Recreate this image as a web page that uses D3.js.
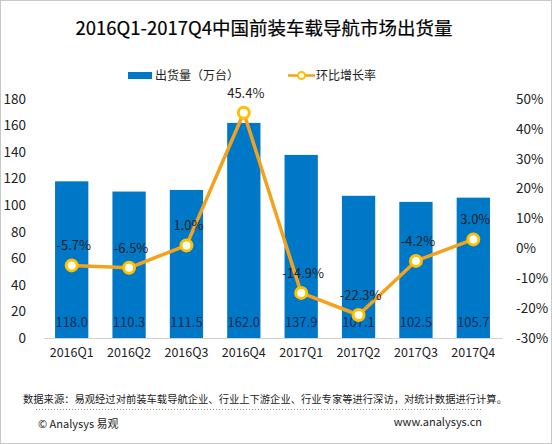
<!DOCTYPE html>
<html>
<head>
<meta charset="utf-8">
<script src="https://cdn.jsdelivr.net/npm/d3@7/dist/d3.min.js"></script>
<style>
html,body{margin:0;padding:0;background:#fff;}
svg{display:block;font-family:"Noto Sans CJK SC","Noto Sans",sans-serif;}
</style>
</head>
<body>
<svg id="chart" width="552" height="444"></svg>
<script>
const categories = ["2016Q1","2016Q2","2016Q3","2016Q4","2017Q1","2017Q2","2017Q3","2017Q4"];
const shipments = [118.0,110.3,111.5,162.0,137.9,107.1,102.5,105.7];
const growth = [-5.7,-6.5,1.0,45.4,-14.9,-22.3,-4.2,3.0];
const leftTicks = [0,20,40,60,80,100,120,140,160,180];
const rightTicks = [-30,-20,-10,0,10,20,30,40,50];
const title = "2016Q1-2017Q4中国前装车载导航市场出货量";
const legendBar = "出货量（万台）";
const legendLine = "环比增长率";
const source = "数据来源：易观经过对前装车载导航企业、行业上下游企业、行业专家等进行深访，对统计数据进行计算。";
const copyright = "© Analysys 易观";
const website = "www.analysys.cn";

(function(){
const svg = d3.select("#chart");
const W = 552, H = 444;
const pTop = 99, pBottom = 338, pLeft = 43, pRight = 502;

svg.append("rect").attr("x",0.5).attr("y",0.5).attr("width",W-1).attr("height",H-1)
  .attr("fill","#fff").attr("stroke","#c8c8c8");

const x = d3.scaleBand().domain(categories).range([pLeft,pRight]).paddingInner(0.42).paddingOuter(0.21);
const y = d3.scaleLinear().domain([0,180]).range([pBottom,pTop]);
const y2 = d3.scaleLinear().domain([-30,50]).range([pBottom,pTop]);

// title
svg.append("text").attr("x",264).attr("y",35).attr("text-anchor","middle")
  .attr("font-size",18.5).attr("fill","#000").attr("stroke","#000").attr("stroke-width",0.2).text(title);

// legend
svg.append("rect").attr("x",128).attr("y",72).attr("width",24).attr("height",7).attr("fill","#0078C8");
svg.append("text").attr("x",155).attr("y",80).attr("font-size",12).attr("fill","#222").text(legendBar);
svg.append("line").attr("x1",288).attr("x2",315).attr("y1",75.5).attr("y2",75.5).attr("stroke","#F2A21C").attr("stroke-width",2.5);
svg.append("circle").attr("cx",301.5).attr("cy",75.5).attr("r",3.5).attr("fill","#fff").attr("stroke","#FFC000").attr("stroke-width",2);
svg.append("text").attr("x",316).attr("y",80).attr("font-size",12).attr("fill","#222").text(legendLine);

// bars
svg.append("g").selectAll("rect").data(categories).join("rect")
  .attr("x",d=>x(d)).attr("width",x.bandwidth())
  .attr("y",(d,i)=>y(shipments[i])).attr("height",(d,i)=>y(0)-y(shipments[i]))
  .attr("fill","#0078C8");

// baseline axis
const xAxis = svg.append("g").attr("transform",`translate(0,${pBottom})`)
  .call(d3.axisBottom(x).tickSize(0).tickPadding(10));
xAxis.select(".domain").attr("stroke","#d0d0d0");
xAxis.selectAll("text").attr("font-size",12.5).attr("fill","#222").attr("font-family","'Noto Sans CJK SC',sans-serif");

const yAxis = svg.append("g").attr("transform",`translate(26,0)`)
  .call(d3.axisLeft(y).tickValues(leftTicks).tickSize(0).tickPadding(0));
yAxis.select(".domain").remove();
yAxis.selectAll("text").attr("font-size",13.5).attr("fill","#222").attr("font-family","'Noto Sans CJK SC',sans-serif");

const yAxis2 = svg.append("g").attr("transform",`translate(516,0)`)
  .call(d3.axisRight(y2).tickValues(rightTicks).tickSize(0).tickPadding(0).tickFormat(d=>d+"%"));
yAxis2.select(".domain").remove();
yAxis2.selectAll("text").attr("font-size",13.5).attr("fill","#222").attr("font-family","'Noto Sans CJK SC',sans-serif");

// bar labels
svg.append("g").selectAll("text").data(categories).join("text")
  .attr("x",d=>x(d)+x.bandwidth()/2).attr("y",327).attr("text-anchor","middle")
  .attr("font-size",13).attr("fill","#1b2b4f").text((d,i)=>shipments[i].toFixed(1));

// line
const cx = d=>x(d)+x.bandwidth()/2;
const line = d3.line().x((d,i)=>cx(categories[i])).y(d=>y2(d));
svg.append("path").datum(growth).attr("d",line).attr("fill","none")
  .attr("stroke","#F2A21C").attr("stroke-width",3.5).attr("stroke-linejoin","round");
svg.append("g").selectAll("circle").data(growth).join("circle")
  .attr("cx",(d,i)=>cx(categories[i])).attr("cy",d=>y2(d)).attr("r",5.5)
  .attr("fill","#fff").attr("stroke","#FFC000").attr("stroke-width",3);
svg.append("g").selectAll("text").data(growth).join("text")
  .attr("x",(d,i)=>cx(categories[i])+2).attr("y",d=>y2(d)-15).attr("text-anchor","middle")
  .attr("font-size",13).attr("fill","#222").text(d=>d.toFixed(1)+"%");

// footer
svg.append("text").attr("x",23).attr("y",403).attr("font-size",10.3).attr("fill","#222").text(source);
svg.append("line").attr("x1",36).attr("x2",483).attr("y1",409.5).attr("y2",409.5)
  .attr("stroke","#888").attr("stroke-dasharray","1,2");
svg.append("text").attr("x",38).attr("y",428).attr("font-size",11).attr("fill","#222").text(copyright);
svg.append("text").attr("x",482).attr("y",426).attr("text-anchor","end").attr("font-size",11).attr("fill","#222").text(website);
})();
</script>
</body>
</html>
